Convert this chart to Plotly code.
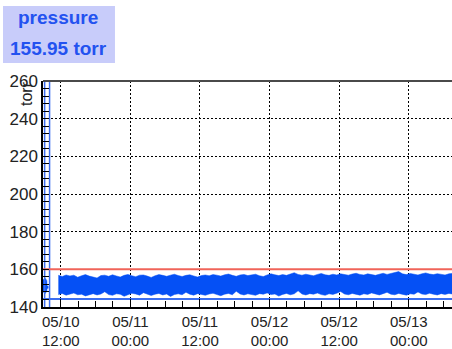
import pandas as pd
import plotly.graph_objects as go

# ---- pressure log: envelope of the sampled readings (torr) ----
band_start = "2024-05-10 11:35"
band_step = "40min"
band_upper = [
    156.8, 156.2, 157.0, 156.5, 156.9, 155.8, 156.6, 157.2, 156.4, 156.0,
    155.4, 156.7, 156.9, 156.3, 157.1, 156.5, 155.9, 156.8, 157.3, 156.6,
    156.1, 156.9, 157.0, 156.4, 155.7, 156.6, 157.2, 156.8, 156.3, 156.9,
    157.4, 156.7, 156.2, 156.8, 157.1, 156.5, 155.9, 156.7, 157.0, 156.6,
    157.2, 156.9, 156.4, 157.1, 157.5, 156.8, 156.3, 157.0, 157.3, 156.7,
    156.9, 157.4, 156.6, 156.2, 157.0, 157.6, 157.1, 156.7, 157.2, 156.8,
    157.5, 158.2, 157.3, 156.9, 157.4, 157.0, 156.6, 157.3, 157.8, 157.1,
    156.8, 157.4, 157.0, 157.6, 157.2, 156.9, 157.5, 157.9, 157.3, 157.0,
    157.6, 157.2, 156.8, 157.4, 157.9, 157.3, 157.7, 158.4, 158.8, 157.6,
    157.2, 157.8, 157.4, 157.0, 157.6, 158.1, 157.5, 157.2, 157.7, 157.3,
    157.0, 157.6, 157.9, 157.4,
]
band_lower = [
    146.6, 147.2, 146.3, 146.9, 147.4, 146.5, 146.8, 145.9, 146.7, 147.1,
    146.4, 146.9, 148.1, 146.6, 146.2, 147.0, 146.8, 145.7, 146.5, 147.3,
    146.9, 146.3, 147.6, 146.7, 146.1, 146.8, 147.2, 146.4, 146.9, 145.6,
    146.6, 147.0, 146.5, 147.8, 146.8, 146.3, 147.1, 146.7, 146.2, 146.9,
    147.3, 146.6, 146.0, 146.8, 147.2, 146.5, 148.4, 146.9, 146.4, 147.0,
    146.7, 146.2, 147.1, 146.8, 147.5, 146.6, 146.9, 145.8, 146.7, 147.2,
    146.5, 147.0, 148.6, 146.9, 146.4, 147.1, 146.8, 147.4, 146.6, 146.2,
    147.0, 146.7, 147.3, 148.2, 146.9, 146.5, 147.2, 146.8, 146.3, 147.0,
    146.7, 147.5, 146.9, 146.4, 147.1, 147.8, 146.8, 146.5, 147.2, 146.7,
    146.3, 147.0, 146.8, 148.0, 146.9, 146.6, 147.3, 146.8, 146.4, 147.1,
    146.7, 147.2, 146.9, 146.5,
]

# short burst of readings before the main run
early_times = ["2024-05-10 08:50", "2024-05-10 09:05", "2024-05-10 09:20",
               "2024-05-10 09:36", "2024-05-10 09:38", "2024-05-10 09:52"]
early_upper = [155.0, 154.5, 155.2, 154.0, 151.2, 151.0]
early_lower = [147.5, 148.0, 147.2, 148.5, 149.8, 150.0]

# full-scale excursions at start-up
spike_times = ["2024-05-10 09:13", "2024-05-10 10:04"]

current_value = "155.95"
unit = "torr"
upper_limit = 160.0
lower_limit = 144.3

x_range = ["2024-05-10 08:56", "2024-05-13 07:27"]
tick_times = ["2024-05-10 12:00", "2024-05-11 00:00", "2024-05-11 12:00",
              "2024-05-12 00:00", "2024-05-12 12:00", "2024-05-13 00:00"]
tick_labels = ["05/10<br>12:00", "05/11<br>00:00", "05/11<br>12:00",
               "05/12<br>00:00", "05/12<br>12:00", "05/13<br>00:00"]
minor_times = list(pd.date_range("2024-05-10 09:00", "2024-05-13 06:00", freq="3h"))

band_times = pd.date_range(band_start, periods=len(band_upper), freq=band_step)

BAND = "#0550f5"
LIMIT_LO = "#3c6ef0"
LIMIT_HI = "#f0645a"
FONT = "Liberation Sans, Arial, sans-serif"

fig = go.Figure()

# readings envelope
for t, lo, hi in ((early_times, early_lower, early_upper),
                  (band_times, band_lower, band_upper)):
    fig.add_trace(go.Scatter(x=t, y=lo, mode="lines",
                             line=dict(color=BAND, width=0.5), hoverinfo="skip"))
    fig.add_trace(go.Scatter(x=t, y=hi, mode="lines", fill="tonexty",
                             fillcolor=BAND, line=dict(color=BAND, width=0.5),
                             hoverinfo="skip"))

# start-up excursions run off scale
sx, sy = [], []
for t in spike_times:
    sx += [t, t, None]
    sy += [100, 300, None]
fig.add_trace(go.Scatter(x=sx, y=sy, mode="lines",
                         line=dict(color=LIMIT_LO, width=1.5), hoverinfo="skip"))

# alarm limits
fig.add_trace(go.Scatter(x=x_range, y=[upper_limit, upper_limit], mode="lines",
                         line=dict(color=LIMIT_HI, width=2), hoverinfo="skip"))
fig.add_trace(go.Scatter(x=x_range, y=[lower_limit, lower_limit], mode="lines",
                         line=dict(color=LIMIT_LO, width=2), hoverinfo="skip"))

fig.update_layout(
    width=452, height=349,
    margin=dict(l=43, r=0, t=81, b=42),
    paper_bgcolor="white", plot_bgcolor="white",
    showlegend=False,
    xaxis=dict(
        type="date", range=x_range,
        tickmode="array", tickvals=tick_times, ticktext=tick_labels,
        ticks="inside", ticklen=8, tickwidth=1, tickcolor="black",
        minor=dict(tickmode="array", tickvals=minor_times, ticks="inside",
                   ticklen=6, tickwidth=1, tickcolor="black", showgrid=False),
        showgrid=True, gridcolor="black", gridwidth=1, griddash="2px,2px",
        showline=True, linecolor="black", linewidth=1.5,
        zeroline=False, automargin=False,
        tickfont=dict(family=FONT, size=15, color="#222"),
    ),
    yaxis=dict(
        range=[140, 260], tick0=140, dtick=20,
        ticks="inside", ticklen=6, tickwidth=1, tickcolor="black",
        minor=dict(dtick=4, tick0=140, ticks="inside", ticklen=6, tickwidth=1,
                   tickcolor="black", showgrid=False),
        showgrid=True, gridcolor="black", gridwidth=1, griddash="2px,2px",
        showline=True, linecolor="black", linewidth=1.5,
        zeroline=False, automargin=False,
        tickfont=dict(family=FONT, size=17, color="#222"),
    ),
)

# top frame edge
fig.add_shape(type="line", xref="paper", yref="paper", x0=0, x1=1, y0=1, y1=1,
              line=dict(color="#4a4a4a", width=2))

# current reading badge
fig.add_shape(type="rect", xref="paper", yref="paper",
              x0=-0.0978, x1=0.176, y0=1.0796, y1=1.3319,
              fillcolor="#c8ccfa", line=dict(width=0), layer="below")
fig.add_annotation(xref="paper", yref="paper", x=0.0367, y=1.2788,
                   text="<b>pressure</b>", showarrow=False,
                   font=dict(family=FONT, size=19, color="#2352f0"),
                   xanchor="center", yanchor="middle")
fig.add_annotation(xref="paper", yref="paper", x=0.0367, y=1.1416,
                   text=f"<b>{current_value} {unit}</b>", showarrow=False,
                   font=dict(family=FONT, size=19, color="#2352f0"),
                   xanchor="center", yanchor="middle")

# y-axis unit label
fig.add_annotation(xref="paper", yref="paper", x=-0.0391, y=0.9425,
                   text=unit, textangle=-90, showarrow=False,
                   font=dict(family=FONT, size=16, color="#222"),
                   xanchor="center", yanchor="middle")

fig.write_html("out.html")
